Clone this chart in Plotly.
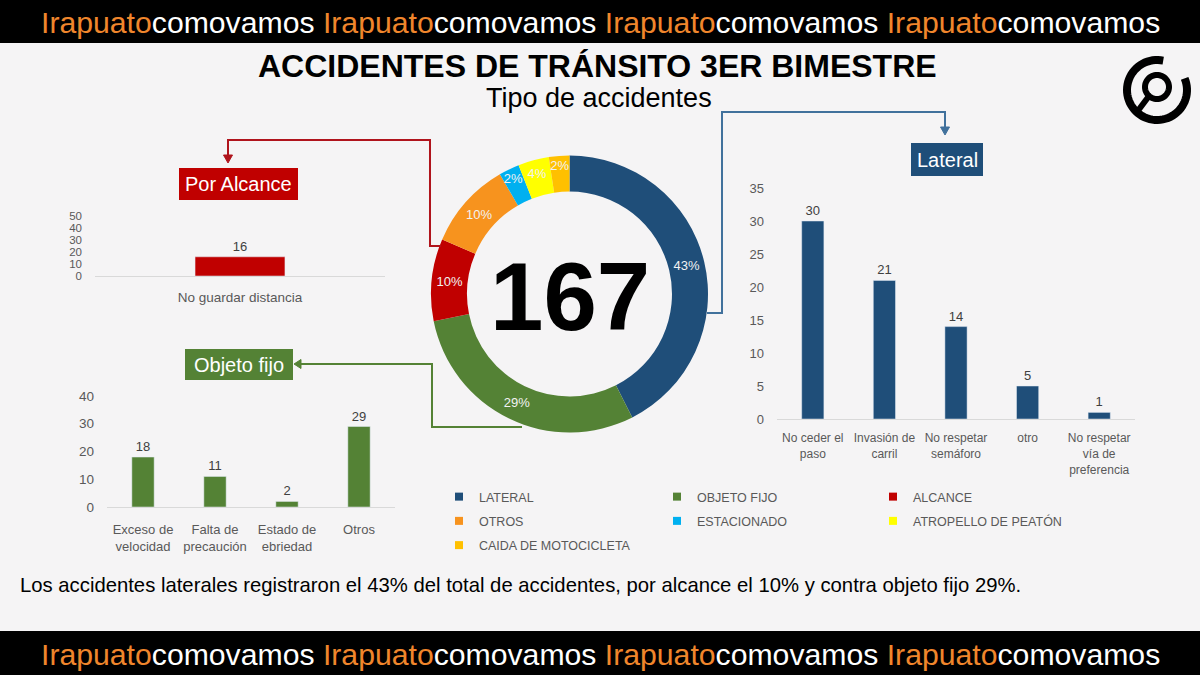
import math
import plotly.graph_objects as go

# ---------------- data ----------------
donut_labels = ["LATERAL", "OBJETO FIJO", "ALCANCE", "OTROS", "ESTACIONADO",
                "ATROPELLO DE PEATÓN", "CAIDA DE MOTOCICLETA"]
donut_values = [71, 49, 16, 17, 4, 6, 4]
donut_colors = ["#1f4e79", "#548235", "#c00000", "#f7931e", "#00b0f0", "#ffff00", "#ffc000"]
total_accidents = 167

alcance_cats = ["No guardar distancia"]
alcance_vals = [16]
objeto_cats = ["Exceso de<br>velocidad", "Falta de<br>precaución", "Estado de<br>ebriedad", "Otros"]
objeto_vals = [18, 11, 2, 29]
lateral_cats = ["No ceder el<br>paso", "Invasión de<br>carril", "No respetar<br>semáforo", "otro",
                "No respetar<br>vía de<br>preferencia"]
lateral_vals = [30, 21, 14, 5, 1]

alcance_ticks = [0, 10, 20, 30, 40, 50]
objeto_ticks = [0, 10, 20, 30, 40]
lateral_ticks = [0, 5, 10, 15, 20, 25, 30, 35]

title_text = "ACCIDENTES DE TRÁNSITO 3ER BIMESTRE"
subtitle_text = "Tipo de accidentes"
footer_text = ("Los accidentes laterales registraron el 43% del total de accidentes, "
               "por alcance el 10% y contra objeto fijo 29%.")

# ---------------- helpers ----------------
W, H = 1200, 675
FONT = "Liberation Sans, Arial, sans-serif"
GREY = "#595959"


def px(x):
    return x / W


def py(y):
    return 1 - y / H


fig = go.Figure()

# donut
fig.add_trace(go.Pie(
    labels=donut_labels, values=donut_values, hole=0.74, sort=False,
    direction="clockwise", rotation=0,
    marker=dict(colors=donut_colors, line=dict(width=0)),
    texttemplate="%{percent:.0%}", textposition="inside",
    insidetextorientation="horizontal",
    textfont=dict(color="#f2f2f2", size=13, family=FONT),
    domain=dict(x=[px(431), px(708)], y=[py(433), py(155)]),
    showlegend=False,
))

bar_font = dict(size=13, color="#404040", family=FONT)

fig.add_trace(go.Bar(x=alcance_cats, y=alcance_vals, marker_color="#c00000",
                     text=alcance_vals, textposition="outside", textfont=bar_font,
                     cliponaxis=False, xaxis="x", yaxis="y", showlegend=False))
fig.add_trace(go.Bar(x=objeto_cats, y=objeto_vals, marker_color="#548235",
                     text=objeto_vals, textposition="outside", textfont=bar_font,
                     cliponaxis=False, xaxis="x2", yaxis="y2", showlegend=False))
fig.add_trace(go.Bar(x=lateral_cats, y=lateral_vals, marker_color="#1f4e79",
                     text=lateral_vals, textposition="outside", textfont=bar_font,
                     cliponaxis=False, xaxis="x3", yaxis="y3", showlegend=False))

# legend entries (three columns)
legend_ids = ["legend", "legend2", "legend3"]
for i, (lab, col) in enumerate(zip(donut_labels, donut_colors)):
    fig.add_trace(go.Scatter(x=[None], y=[None], mode="markers", name=lab,
                             marker=dict(symbol="square", size=8, color=col),
                             legend=legend_ids[i % 3], legendgroup=lab,
                             xaxis="x", yaxis="y"))


def tf(size):
    return dict(size=size, color=GREY, family=FONT)


def xax(d0, d1, anchor, fsize, standoff):
    return dict(domain=[px(d0), px(d1)], anchor=anchor, showgrid=False, zeroline=False,
                showline=True, linecolor="#d9d9d9", linewidth=1, ticks="",
                ticklabelstandoff=standoff, tickfont=tf(fsize), fixedrange=True,
                automargin=False)


def yax(d0, d1, rng, tv, anchor, fsize):
    return dict(domain=[py(d0), py(d1)], anchor=anchor, range=rng, tickvals=tv,
                showgrid=False, zeroline=False, showline=False, ticks="",
                ticklabelstandoff=12, tickfont=tf(fsize), fixedrange=True,
                automargin=False)


leg_common = dict(xanchor="left", yanchor="top", bgcolor="rgba(0,0,0,0)",
                  font=dict(size=12.5, color=GREY, family=FONT), tracegroupgap=5,
                  itemclick=False, itemdoubleclick=False)

fig.update_layout(
    width=W, height=H, margin=dict(l=0, r=0, t=0, b=0, autoexpand=False),
    paper_bgcolor="#f5f4f5", plot_bgcolor="rgba(0,0,0,0)",
    font=dict(family=FONT), bargap=0.69,
    uniformtext=dict(minsize=12, mode="show"),
    xaxis=xax(95, 385, "y", 13.5, 9),
    yaxis=yax(276, 216, [0, 50], alcance_ticks, "x", 11.5),
    xaxis2=xax(107, 395, "y2", 13, 10),
    yaxis2=yax(507, 396, [0, 40], objeto_ticks, "x2", 13.5),
    xaxis3=xax(777, 1135, "y3", 12, 8),
    yaxis3=yax(419, 188, [0, 35], lateral_ticks, "x3", 13),
    legend=dict(x=px(439), y=py(482), **leg_common),
    legend2=dict(x=px(657), y=py(482), **leg_common),
    legend3=dict(x=px(873), y=py(482), **leg_common),
)

shapes = []
annots = []

# banners
for y0, y1 in [(0, 43), (631, 675)]:
    shapes.append(dict(type="rect", xref="paper", yref="paper", x0=0, x1=1,
                       y0=py(y1), y1=py(y0), fillcolor="#000000", line_width=0, layer="above"))
    rep = "<span style='color:#f0862c'>Irapuato</span><span style='color:#ffffff'>comovamos</span>"
    annots.append(dict(text=" ".join([rep] * 4), x=0.5, y=py((y0 + y1) / 2 + 1), xref="paper",
                       yref="paper", showarrow=False, xanchor="center", yanchor="middle",
                       font=dict(size=30.2, family=FONT)))

# title and subtitle
annots.append(dict(text="<b>" + title_text + "</b>", x=px(597), y=py(66), xref="paper",
                   yref="paper", showarrow=False, xanchor="center", yanchor="middle",
                   font=dict(size=32, color="#000000", family=FONT)))
annots.append(dict(text=subtitle_text, x=px(599), y=py(98), xref="paper", yref="paper",
                   showarrow=False, xanchor="center", yanchor="middle",
                   font=dict(size=27, color="#000000", family=FONT)))

# centre number
annots.append(dict(text="<b>%d</b>" % total_accidents, x=px(569.5), y=py(296), xref="paper",
                   yref="paper", showarrow=False, xanchor="center", yanchor="middle",
                   font=dict(size=96, color="#000000", family=FONT)))

# label boxes
boxes = [("Por Alcance", 179, 298, 168, 200, "#c00000"),
         ("Objeto fijo", 185, 293, 349, 380, "#548235"),
         ("Lateral", 911, 983, 143, 176, "#1f4e79")]
for txt, x0, x1, y0, y1, colr in boxes:
    shapes.append(dict(type="rect", xref="paper", yref="paper", x0=px(x0), x1=px(x1),
                       y0=py(y1), y1=py(y0), fillcolor=colr, line_width=0))
    annots.append(dict(text=txt, x=px((x0 + x1) / 2), y=py((y0 + y1) / 2), xref="paper",
                       yref="paper", showarrow=False, xanchor="center", yanchor="middle",
                       font=dict(size=20, color="#ffffff", family=FONT)))


def path(points, close=False):
    s = "M " + " L ".join("%.5f,%.5f" % (px(x), py(y)) for x, y in points)
    return s + (" Z" if close else "")


connectors = [
    ("#b0141c", [(441, 246), (430, 246), (430, 140), (228, 140), (228, 157)],
     [(223.5, 155), (232.5, 155), (228, 163)]),
    ("#41719c", [(707, 313), (722, 313), (722, 112), (945, 112), (945, 129)],
     [(940.5, 127), (949.5, 127), (945, 135)]),
    ("#548235", [(522, 427), (432, 427), (432, 364), (299, 364)],
     [(301, 359.5), (301, 368.5), (294, 364)]),
]
for colr, pts, tri in connectors:
    shapes.append(dict(type="path", xref="paper", yref="paper", path=path(pts),
                       line=dict(color=colr, width=2)))
    shapes.append(dict(type="path", xref="paper", yref="paper", path=path(tri, True),
                       fillcolor=colr, line=dict(color=colr, width=1)))


# logo (decorative)
def arc(cx, cy, r, a0, a1, n=60):
    return [(cx + r * math.cos(math.radians(a0 + (a1 - a0) * k / n)),
             cy - r * math.sin(math.radians(a0 + (a1 - a0) * k / n))) for k in range(n + 1)]


shapes.append(dict(type="path", xref="paper", yref="paper",
                   path=path(arc(1157, 90, 30, 78, 383)), line=dict(color="#000000", width=8)))
shapes.append(dict(type="path", xref="paper", yref="paper",
                   path=path(arc(1157, 87, 12, 0, 360), True), line=dict(color="#000000", width=6)))
shapes.append(dict(type="path", xref="paper", yref="paper",
                   path=path([(1149, 96), (1137, 112)]), line=dict(color="#000000", width=6)))

# footer sentence
annots.append(dict(text=footer_text, x=px(18), y=py(585), xref="paper", yref="paper",
                   showarrow=False, xanchor="left", yanchor="middle",
                   font=dict(size=20.3, color="#000000", family=FONT)))

fig.update_layout(shapes=shapes, annotations=annots)
fig.write_html("out.html")
